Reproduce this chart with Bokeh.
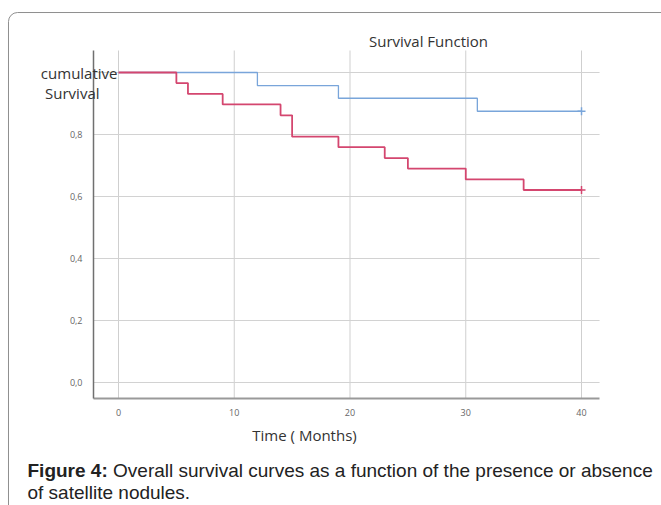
from bokeh.plotting import figure
from bokeh.models import Label, FixedTicker, BoxAnnotation, Range1d
from bokeh.embed import file_html
from bokeh.resources import INLINE

# ---- Data (Kaplan-Meier steps) ----
blue_time = [0, 12, 19, 31, 40]
blue_surv = [1.0, 0.958, 0.917, 0.875, 0.875]
red_time = [0, 5, 6, 9, 14, 15, 19, 23, 25, 30, 35, 40]
red_surv = [1.0, 0.966, 0.931, 0.897, 0.862, 0.793, 0.759, 0.724, 0.690, 0.655, 0.621, 0.621]
censor_time = [40, 40]
censor_surv = [0.875, 0.621]

x_ticks = [0, 10, 20, 30, 40]
y_ticks = [0.0, 0.2, 0.4, 0.6, 0.8, 1.0]
y_tick_labels = ["0,0", "0,2", "0,4", "0,6", "0,8", ""]

title_text = "Survival Function"
y_label_lines = ["cumulative", "Survival"]
x_label_text = "Time ( Months)"
caption_bold = "Figure 4:"
caption_line1 = "Overall survival curves as a function of the presence or absence"
caption_line2 = "of satellite nodules."

BLUE = "#79a5da"
RED = "#d4466f"

# ---- Layout geometry (frame covers the whole canvas) ----
X0, X1 = -10.194, 46.91
Y0, Y1 = -0.3968, 1.2323
AX_X = -2.16      # where the y axis sits
AX_Y = -0.0516    # where the x axis sits
AX_XEND = 41.56
AX_YEND = 1.071

p = figure(width=661, height=505, output_backend="svg", toolbar_location=None,
           x_range=Range1d(X0, X1), y_range=Range1d(Y0, Y1),
           min_border_left=0, min_border_right=0, min_border_top=0, min_border_bottom=0)
p.title = None
p.outline_line_color = None
p.background_fill_color = "white"
p.border_fill_color = "white"
p.xgrid.visible = False
p.ygrid.visible = False

p.xaxis.ticker = FixedTicker(ticks=x_ticks)
p.yaxis.ticker = FixedTicker(ticks=y_ticks)
p.yaxis.major_label_overrides = {t: l for t, l in zip(y_ticks, y_tick_labels)}
p.xaxis.fixed_location = AX_Y
p.yaxis.fixed_location = AX_X
p.xaxis.bounds = (AX_X, AX_XEND)
p.yaxis.bounds = (AX_Y, AX_YEND)

for ax in (p.xaxis, p.yaxis):
    ax.major_tick_line_color = None
    ax.minor_tick_line_color = None
    ax.major_label_text_font = "Open Sans"
    ax.major_label_text_font_size = "9px"
    ax.major_label_text_color = "#666666"
p.xaxis.axis_line_color = "#999999"
p.xaxis.axis_line_width = 2
p.yaxis.axis_line_color = "#707070"
p.yaxis.axis_line_width = 1.5
p.yaxis.major_label_standoff = 5
p.xaxis.major_label_standoff = 5

# rounded frame around the figure
p.add_layout(BoxAnnotation(left=-9.503, right=60, top=1.1935, bottom=-1,
                           fill_alpha=0, line_color="#8f8f8f", line_alpha=1.0,
                           line_width=1, border_radius=9, level="underlay"))

# grid lines, bounded to the plotting area
p.segment(x0=x_ticks, x1=x_ticks, y0=[AX_Y] * len(x_ticks), y1=[AX_YEND] * len(x_ticks),
          line_color="#cfcfcf", line_width=1, level="underlay")
p.segment(x0=[AX_X] * len(y_ticks), x1=[AX_XEND] * len(y_ticks), y0=y_ticks, y1=y_ticks,
          line_color="#d2d2d2", line_width=1, level="underlay")

p.step(blue_time, blue_surv, mode="after", line_color=BLUE, line_width=1.3)
p.step(red_time, red_surv, mode="after", line_color=RED, line_width=1.8)
p.scatter(censor_time, censor_surv, marker="cross", size=8,
          line_color=[BLUE, RED], line_width=1.5)

def lab(**kw):
    p.add_layout(Label(level="overlay", **kw))

CH = dict(text_font="Open Sans", text_font_size="15px", text_color="#333333",
          text_baseline="middle")
lab(x=26.78, y=1.103, text=title_text, text_align="center", **CH)
lab(x=-0.086, y=1.0, text=y_label_lines[0], text_align="right", **CH)
lab(x=-1.64, y=0.935, text=y_label_lines[1], text_align="right", **CH)
lab(x=16.07, y=-0.168, text=x_label_text, text_align="center", **CH)

CAP = dict(text_font="Liberation Sans", text_font_size="19px", text_color="#222222",
           text_baseline="middle")
lab(x=-7.862, y=-0.284, text=caption_bold, text_font_style="bold", **CAP)
lab(x=-0.467, y=-0.284, text=caption_line1, **CAP)
lab(x=-7.862, y=-0.355, text=caption_line2, **CAP)

open("out.html", "w").write(file_html(p, INLINE))
